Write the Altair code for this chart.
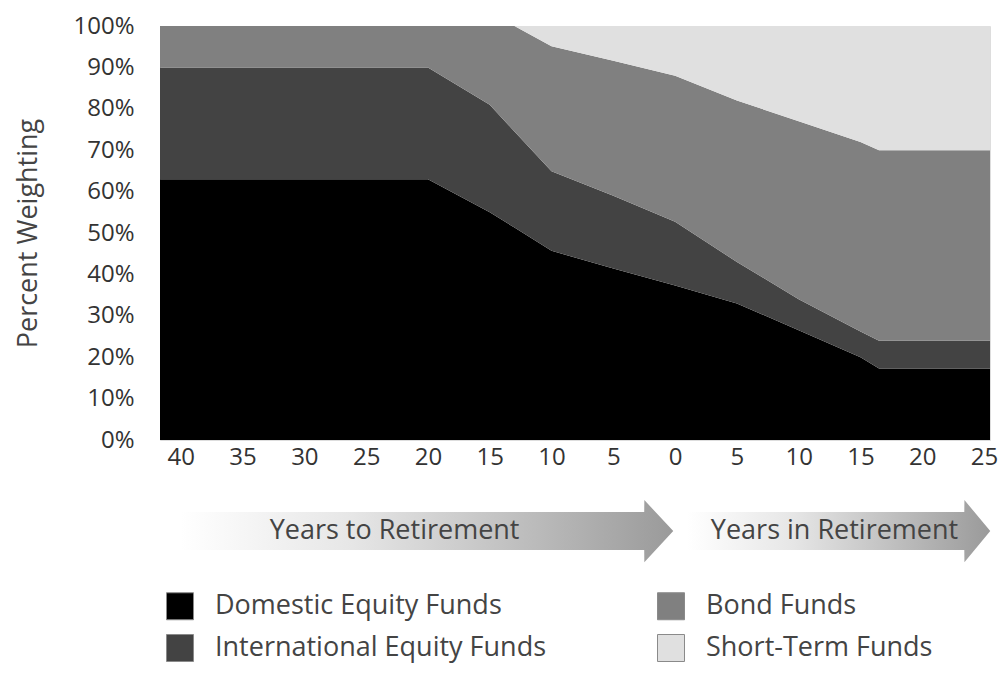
import altair as alt
import pandas as pd

# ---- data (years relative to retirement; negative = before) ----
years = [-41.68, -20, -15, -13, -10, -5, 0, 5, 10, 15, 16.5, 25.48]
domestic = [0.63, 0.63, 0.55, 0.513, 0.457, 0.414, 0.373, 0.33, 0.265, 0.20, 0.173, 0.173]
international = [0.27, 0.27, 0.26, 0.232, 0.192, 0.176, 0.154, 0.10, 0.075, 0.062, 0.067, 0.067]
bond = [0.10, 0.10, 0.19, 0.255, 0.302, 0.326, 0.353, 0.39, 0.43, 0.458, 0.46, 0.46]
short_term = [0.0, 0.0, 0.0, 0.0, 0.049, 0.084, 0.12, 0.18, 0.23, 0.28, 0.30, 0.30]

funds = ["Domestic Equity Funds", "International Equity Funds", "Bond Funds", "Short-Term Funds"]
fund_colors = ["#000000", "#434343", "#808080", "#e0e0e0"]
tick_years = [-40, -35, -30, -25, -20, -15, -10, -5, 0, 5, 10, 15, 20, 25]
y_ticks = [0, 0.1, 0.2, 0.3, 0.4, 0.5, 0.6, 0.7, 0.8, 0.9, 1.0]

arrow_labels = ["Years to Retirement", "Years in Retirement"]
arrow_start = [-40.0, 1.0]
arrow_head = [-2.5, 23.4]
arrow_tip = [-0.15, 25.5]
arrow_label_x = [-22.7, 12.9]

FONT = "Open Sans"
XDOM = [-41.68, 25.48]
YDOM = [0, 1]

rows = []
series = [domestic, international, bond, short_term]
for k, (name, vals) in enumerate(zip(funds, series)):
    for yr, v in zip(years, vals):
        rows.append({"year": yr, "fund": name, "share": v, "order": k})
df = pd.DataFrame(rows)

x_scale = alt.Scale(domain=XDOM, nice=False, zero=False)
y_scale = alt.Scale(domain=YDOM, nice=False)
x_axis = alt.Axis(values=tick_years, labelExpr="abs(datum.value)", title=None,
                  ticks=False, domain=False, grid=False, labelPadding=5,
                  labelFontSize=24, labelColor="#333", labelFont=FONT)
y_axis = alt.Axis(values=y_ticks, format=".0%", title="Percent Weighting",
                  ticks=False, domain=False, grid=False, labelPadding=26,
                  labelFontSize=24, labelColor="#333", labelFont=FONT,
                  titleFontSize=27, titleFontWeight="normal", titleColor="#444",
                  titleFont=FONT, titlePadding=30)

areas = alt.Chart(df).mark_area(interpolate="linear").encode(
    x=alt.X("year:Q", scale=x_scale, axis=x_axis),
    y=alt.Y("share:Q", stack="zero", scale=y_scale, axis=y_axis),
    color=alt.Color("fund:N", scale=alt.Scale(domain=funds, range=fund_colors),
                    legend=alt.Legend(title=None, orient="none", legendX=6, legendY=566,
                                      columns=2, columnPadding=108, rowPadding=10,
                                      symbolType="square", symbolSize=729,
                                      symbolStrokeColor="#8a8a8a", symbolStrokeWidth=1,
                                      symbolOpacity=1, labelFontSize=27, labelColor="#444",
                                      labelFont=FONT, labelOffset=21, labelLimit=0,
                                      padding=0)),
    order=alt.Order("order:Q", sort="ascending"),
)

# arrows below the x axis (annotation shapes in data units)
body_top, body_bot, head_top, head_bot, tip_y = -0.174, -0.266, -0.145, -0.295, -0.220
arrow_rows = []
for i, lab in enumerate(arrow_labels):
    pts = [
        (arrow_start[i], body_top, body_bot),
        (arrow_head[i], body_top, body_bot),
        (arrow_head[i] + 0.01, head_top, head_bot),
        (arrow_tip[i], tip_y, tip_y),
    ]
    for x, t, b in pts:
        arrow_rows.append({"arrow": lab, "x": x, "top": t, "bot": b})
arrows_df = pd.DataFrame(arrow_rows)

grad = alt.LinearGradient(
    gradient="linear",
    stops=[alt.GradientStop(color="#ffffff", offset=0),
           alt.GradientStop(color="#e6e6e6", offset=0.35),
           alt.GradientStop(color="#9a9a9a", offset=1)],
    x1=0, x2=1, y1=0, y2=0,
)

arrow_layers = []
for lab in arrow_labels:
    arrow_layers.append(
        alt.Chart(arrows_df[arrows_df["arrow"] == lab]).mark_area(color=grad, interpolate="linear").encode(
            x=alt.X("x:Q", scale=x_scale, axis=x_axis),
            y=alt.Y("top:Q", scale=y_scale, axis=y_axis),
            y2="bot:Q",
        )
    )

labels_df = pd.DataFrame({"x": arrow_label_x, "y": [tip_y, tip_y], "label": arrow_labels})
arrow_text = alt.Chart(labels_df).mark_text(
    fontSize=27, font=FONT, color="#444", align="center", baseline="middle"
).encode(
    x=alt.X("x:Q", scale=x_scale, axis=x_axis),
    y=alt.Y("y:Q", scale=y_scale, axis=y_axis),
    text="label:N",
)

chart = alt.layer(areas, *arrow_layers, arrow_text).properties(
    width=830, height=414,
    autosize=alt.AutoSizeParams(type="none"),
    padding={"left": 152, "top": 18, "right": 8, "bottom": 224},
).configure_view(stroke="#a8a8a8", strokeWidth=1.5).configure(font=FONT, background="white")

chart.save("out.html", embed_options={"renderer": "svg", "actions": False})
